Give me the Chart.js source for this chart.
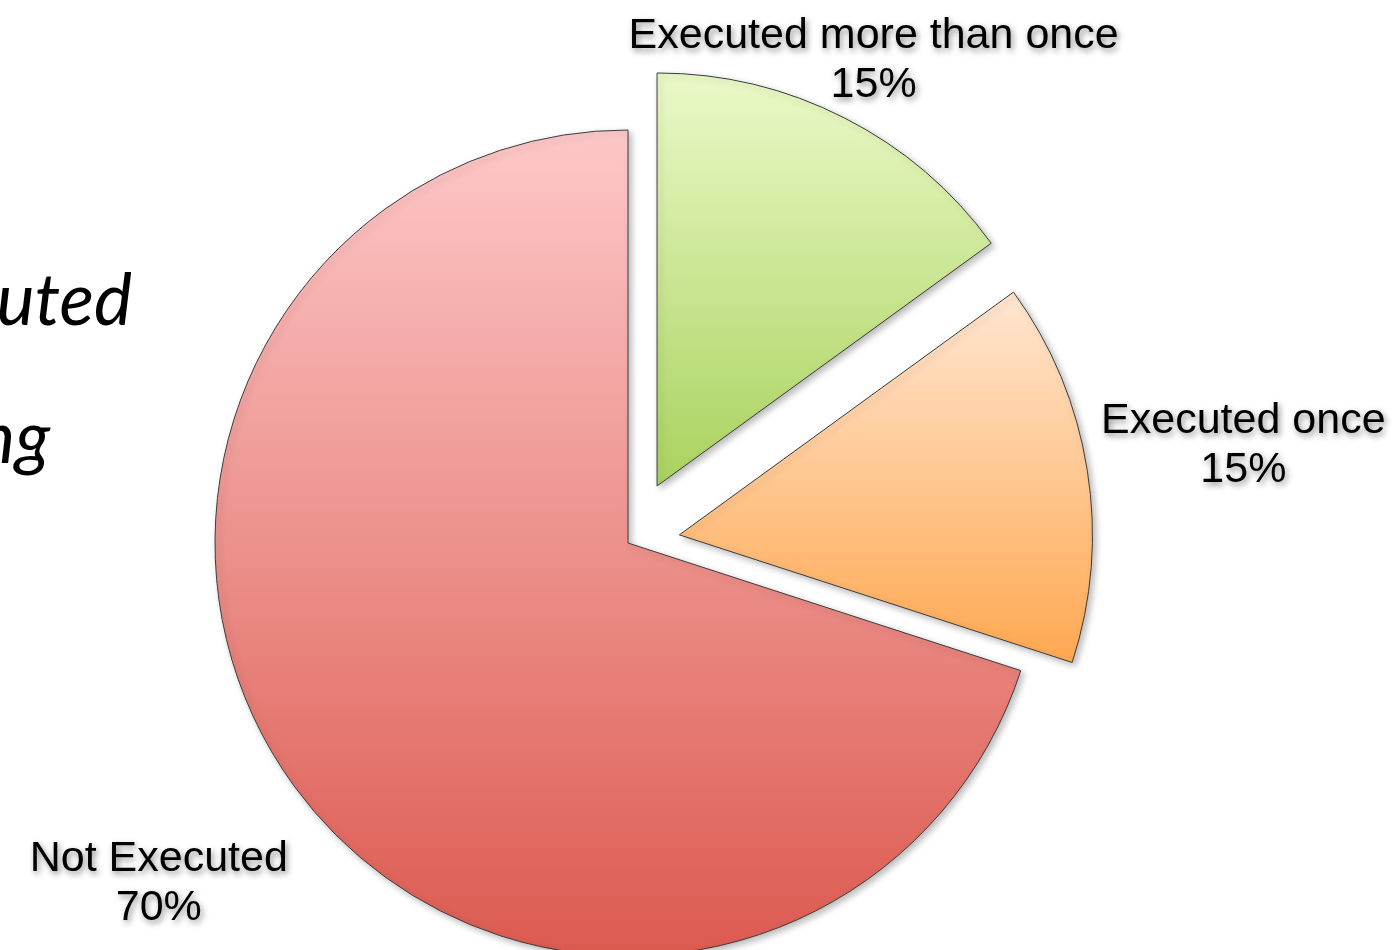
<!DOCTYPE html>
<html>
<head>
<meta charset="utf-8">
<script src="https://cdn.jsdelivr.net/npm/chart.js@4/dist/chart.umd.min.js"></script>
<style>
  html, body { margin: 0; padding: 0; background: #fff; overflow: hidden; }
  #wrap { width: 1397px; height: 950px; position: relative; }
</style>
</head>
<body>
<div id="wrap"><canvas id="coverage-pie"></canvas></div>
<script>
// slice data, drawn clockwise from 12 o'clock
const categories = ['Executed more than once', 'Executed once', 'Not Executed'];
const shares = [15, 15, 70];

// vertical gradient per slice (top -> bottom)
const topColors = ['#ebf9c8', '#ffe6d2', '#fdc8c8'];
const bottomColors = ['#a9d25e', '#ffa850', '#dc5a50'];
const explode = [64, 52, 0];      // px each slice is pulled out along its bisector
const labelGap = [64, 158, 167];  // label centre distance beyond the rim

Chart.defaults.font.family = '"Liberation Sans", Arial, sans-serif';
Chart.defaults.animation = false;

// pulls slices out (without chart.js' offset radius growth), paints the
// gradients and puts a soft drop shadow under the slices
const sliceStyle = {
  id: 'sliceStyle',
  beforeDatasetsDraw(chart) {
    const ctx = chart.ctx;
    const ca = chart.chartArea;
    const cx = (ca.left + ca.right) / 2;
    const cy = (ca.top + ca.bottom) / 2;
    chart.getDatasetMeta(0).data.forEach((arc, i) => {
      const mid = (arc.startAngle + arc.endAngle) / 2;
      arc.x = cx + Math.cos(mid) * explode[i];
      arc.y = cy + Math.sin(mid) * explode[i];
      let minY = arc.y, maxY = arc.y;
      for (let k = 0; k <= 60; k++) {
        const a = arc.startAngle + (arc.endAngle - arc.startAngle) * k / 60;
        const y = arc.y + Math.sin(a) * arc.outerRadius;
        minY = Math.min(minY, y);
        maxY = Math.max(maxY, y);
      }
      const g = ctx.createLinearGradient(0, minY, 0, maxY);
      g.addColorStop(0, topColors[i]);
      g.addColorStop(1, bottomColors[i]);
      arc.options.backgroundColor = g;
    });
    ctx.save();
    ctx.shadowColor = 'rgba(0,0,0,0.28)';
    ctx.shadowBlur = 7;
    ctx.shadowOffsetX = 3;
    ctx.shadowOffsetY = 3;
  },
  afterDatasetsDraw(chart) {
    chart.ctx.restore();
  }
};

// category + percentage written outside each slice along its bisector
const outsideLabels = {
  id: 'outsideLabels',
  afterDatasetsDraw(chart) {
    const ctx = chart.ctx;
    const total = shares.reduce((a, b) => a + b, 0);
    ctx.save();
    ctx.font = '43px "Liberation Sans", Arial, sans-serif';
    ctx.fillStyle = '#000';
    ctx.textAlign = 'center';
    ctx.textBaseline = 'middle';
    ctx.shadowColor = 'rgba(0,0,0,0.45)';
    ctx.shadowBlur = 6;
    ctx.shadowOffsetX = 2;
    ctx.shadowOffsetY = 3;
    chart.getDatasetMeta(0).data.forEach((arc, i) => {
      const mid = (arc.startAngle + arc.endAngle) / 2;
      const d = arc.outerRadius + labelGap[i];
      const x = arc.x + Math.cos(mid) * d;
      const y = arc.y + Math.sin(mid) * d;
      ctx.fillText(categories[i], x, y - 24.5);
      ctx.fillText(Math.round(shares[i] / total * 100) + '%', x, y + 24.5);
    });
    ctx.restore();
  }
};

// slide body text that runs off the left edge
const slideText = {
  id: 'slideText',
  beforeDraw(chart) {
    const ctx = chart.ctx;
    ctx.save();
    ctx.font = 'italic 72px Lato, "Open Sans", sans-serif';
    ctx.fillStyle = '#000';
    ctx.textAlign = 'right';
    ctx.textBaseline = 'alphabetic';
    ctx.fillText('are executed', 132, 325);
    ctx.fillText('during testing', 50, 463);
    ctx.restore();
  }
};

new Chart(document.getElementById('coverage-pie'), {
  type: 'pie',
  data: {
    labels: categories,
    datasets: [{
      data: shares,
      backgroundColor: topColors,
      borderColor: '#3c3c3c',
      borderWidth: 1
    }]
  },
  options: {
    responsive: true,
    maintainAspectRatio: false,
    radius: 413,
    layout: { padding: { left: 0, right: 141, top: 136, bottom: 0 } },
    plugins: {
      legend: { display: false },
      tooltip: { enabled: false }
    }
  },
  plugins: [slideText, sliceStyle, outsideLabels]
});
</script>
</body>
</html>
